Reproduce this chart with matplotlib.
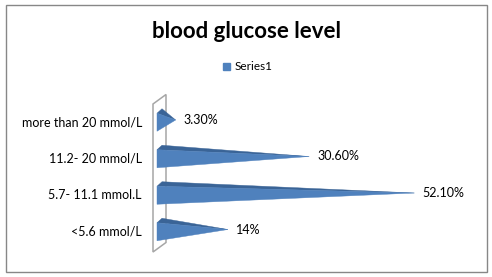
import matplotlib
matplotlib.use("Agg")
import matplotlib.pyplot as plt
from matplotlib.patches import Polygon, Rectangle, Patch

categories = ["<5.6 mmol/L", "5.7- 11.1 mmol.L", "11.2- 20 mmol/L", "more than 20 mmol/L"]
values = [14.0, 52.1, 30.6, 3.3]
value_labels = ["14%", "52.10%", "30.60%", "3.30%"]
series_name = "Series1"
title = "blood glucose level"

FRONT = "#4F81BD"
TOP = "#3A6497"
WALL = "#A6A6A6"
FONT = ["Lato", "DejaVu Sans"]

W, H = 492, 277
fig = plt.figure(figsize=(W / 100, H / 100), dpi=100)
fig.patch.set_facecolor("white")

# outer chart border
fig.patches.append(Rectangle((6 / W, 5 / H), 481 / W, 267 / H, transform=fig.transFigure,
                             fill=False, edgecolor="#878787", linewidth=1))

# plot area: x=0 at pixel 157, 4.89 px per percent
ax_left, ax_right = 157, 470
ax_top, ax_bottom = 104, 250
ax = fig.add_axes([ax_left / W, (H - ax_bottom) / H, (ax_right - ax_left) / W, (ax_bottom - ax_top) / H])
px_x = 4.89
xmax = (ax_right - ax_left) / px_x
ax.set_xlim(0, xmax)
ax.set_ylim(-0.5, len(categories) - 0.5)
ax.axis("off")
px_y = (ax_bottom - ax_top) / len(categories)

def dxp(p):
    return p / px_x

def dyp(p):
    return p / px_y

# side wall (parallelogram)
wall_dx, wall_dy = 13, 9.5
x0 = dxp(-4)
wall = Polygon([(x0, -0.5 - dyp(2)), (x0, len(categories) - 0.5),
                (x0 + dxp(wall_dx), len(categories) - 0.5 + dyp(wall_dy)),
                (x0 + dxp(wall_dx), -0.5 - dyp(2) + dyp(wall_dy))],
               closed=True, facecolor="white", edgecolor=WALL, linewidth=1.1,
               zorder=1, clip_on=False)
ax.add_patch(wall)

# pyramids pointing right
half = dyp(9)
ddx, ddy = dxp(5), dyp(4.5)
for i, (v, lab) in enumerate(zip(values, value_labels)):
    apex = (v + ddx / 2, i + ddy / 2)
    top = Polygon([(0, i + half), (ddx, i + half + ddy), apex], closed=True,
                  facecolor=TOP, edgecolor=TOP, linewidth=0.3, zorder=3, clip_on=False)
    front = Polygon([(0, i - half), (0, i + half), apex], closed=True,
                    facecolor=FRONT, edgecolor=FRONT, linewidth=0.3, zorder=4, clip_on=False)
    ax.add_patch(top)
    ax.add_patch(front)
    ax.text(apex[0] + dxp(8), apex[1], lab, ha="left", va="center",
            fontsize=9, family=FONT, color="black", clip_on=False)

# category labels
for i, c in enumerate(categories):
    ax.text(dxp(-15), i, c, ha="right", va="center", fontsize=9,
            family=FONT, color="black", clip_on=False)

fig.text(246 / W, 1 - 31 / H, title, ha="center", va="center",
         fontsize=16, fontweight="bold", family=FONT)

fig.legend(handles=[Patch(facecolor=FRONT, edgecolor=FRONT)], labels=[series_name],
           loc="center", bbox_to_anchor=(248 / W, 1 - 67 / H), frameon=False,
           prop={"family": FONT, "size": 8.5}, handlelength=0.6, handleheight=0.6,
           handletextpad=0.4, borderpad=0)

fig.savefig("out.png", dpi=100, facecolor="white")
